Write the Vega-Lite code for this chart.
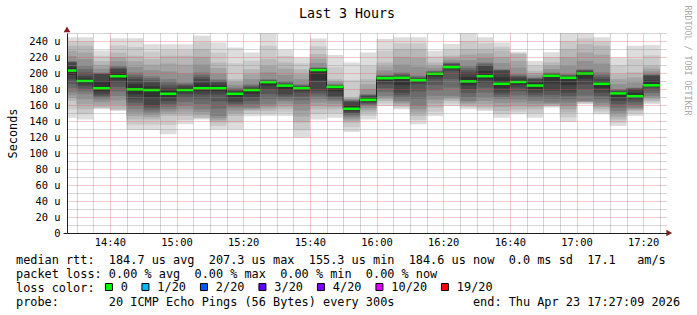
{
  "$schema": "https://vega.github.io/schema/vega-lite/v6.json",
  "width": 600,
  "height": 200,
  "autosize": {"type": "none"},
  "padding": {"left": 67, "top": 33, "right": 30, "bottom": 82},
  "background": "white",
  "title": {"text": "Last 3 Hours", "font": "DejaVu Sans Mono", "fontSize": 13.3, "fontWeight": "normal", "color": "#000000", "anchor": "middle", "frame": "group", "dx": -20, "offset": -15},
  "data": {"values": [
    {"t0":"2026-04-23T14:27:09","t1":"2026-04-23T14:30:00","m":203,"loss":"0","p1":144,"p2":154.5,"p3":165,"p4":168.5,"p5":172,"p6":175.6,"p7":181,"p8":186.5,"p9":192,"p10":197.5,"p11":208,"p12":213,"p13":213.7,"p14":214.3,"p15":215,"p16":221.3,"p17":227.7,"p18":234,"p19":239.3,"p20":244.6},
    {"t0":"2026-04-23T14:30:00","t1":"2026-04-23T14:35:00","m":190,"loss":"0","p1":142,"p2":148.4,"p3":154.7,"p4":161,"p5":167.2,"p6":173.5,"p7":177,"p8":180.5,"p9":184,"p10":187,"p11":193.2,"p12":196.5,"p13":200.7,"p14":204.8,"p15":209,"p16":217.3,"p17":225.7,"p18":234,"p19":239.3,"p20":244.6},
    {"t0":"2026-04-23T14:35:00","t1":"2026-04-23T14:40:00","m":181,"loss":"0","p1":154.7,"p2":155.8,"p3":156.8,"p4":160.2,"p5":163.6,"p6":167,"p7":169.2,"p8":171.3,"p9":173.5,"p10":177.2,"p11":189.8,"p12":198.6,"p13":199.3,"p14":200,"p15":200.7,"p16":205.5,"p17":210.2,"p18":215,"p19":221.5,"p20":228},
    {"t0":"2026-04-23T14:40:00","t1":"2026-04-23T14:45:00","m":196,"loss":"0","p1":152.6,"p2":153.7,"p3":154.7,"p4":160.3,"p5":165.8,"p6":171.4,"p7":177,"p8":182.5,"p9":188,"p10":192,"p11":200.5,"p12":205,"p13":206.3,"p14":207.7,"p15":209,"p16":214.6,"p17":220.1,"p18":225.7,"p19":234.5,"p20":243.3},
    {"t0":"2026-04-23T14:45:00","t1":"2026-04-23T14:50:00","m":179.5,"loss":"0","p1":128.7,"p2":135.4,"p3":142,"p4":146.2,"p5":150.5,"p6":154.7,"p7":158.9,"p8":163,"p9":167.2,"p10":173.4,"p11":185.9,"p12":192.3,"p13":195.1,"p14":197.9,"p15":200.7,"p16":207.7,"p17":214.6,"p18":221.6,"p19":232.5,"p20":243.3},
    {"t0":"2026-04-23T14:50:00","t1":"2026-04-23T14:55:00","m":178.7,"loss":"0","p1":128.7,"p2":135.4,"p3":142,"p4":144.8,"p5":147.7,"p6":150.5,"p7":153.3,"p8":156.1,"p9":158.9,"p10":168.8,"p11":183.4,"p12":188,"p13":190.8,"p14":193.7,"p15":196.5,"p16":203.5,"p17":210.4,"p18":217.4,"p19":226.7,"p20":236},
    {"t0":"2026-04-23T14:55:00","t1":"2026-04-23T15:00:00","m":174,"loss":"0","p1":123.4,"p2":134.9,"p3":146.3,"p4":149.1,"p5":151.9,"p6":154.7,"p7":158.1,"p8":161.6,"p9":165,"p10":169.5,"p11":177.9,"p12":181.8,"p13":185.3,"p14":188.8,"p15":192.3,"p16":202.1,"p17":211.8,"p18":221.6,"p19":228.8,"p20":236},
    {"t0":"2026-04-23T15:00:00","t1":"2026-04-23T15:05:00","m":178.7,"loss":"0","p1":135.9,"p2":141.1,"p3":146.3,"p4":150.5,"p5":154.7,"p6":158.9,"p7":163.8,"p8":168.6,"p9":173.5,"p10":176.1,"p11":181.4,"p12":184,"p13":185.3,"p14":186.7,"p15":188,"p16":199.2,"p17":210.4,"p18":221.6,"p19":228.8,"p20":236},
    {"t0":"2026-04-23T15:05:00","t1":"2026-04-23T15:10:00","m":181,"loss":"0","p1":142,"p2":143,"p3":144,"p4":147.6,"p5":151.1,"p6":154.7,"p7":161,"p8":167.2,"p9":173.5,"p10":177.3,"p11":186.7,"p12":192.3,"p13":195.1,"p14":197.9,"p15":200.7,"p16":210.5,"p17":220.2,"p18":230,"p19":238.3,"p20":246.6},
    {"t0":"2026-04-23T15:10:00","t1":"2026-04-23T15:15:00","m":181,"loss":"0","p1":129.5,"p2":133.8,"p3":138,"p4":140.8,"p5":143.5,"p6":146.3,"p7":155.4,"p8":164.4,"p9":173.5,"p10":177.3,"p11":184.5,"p12":188,"p13":189.4,"p14":190.9,"p15":192.3,"p16":199.3,"p17":206.2,"p18":213.2,"p19":225.6,"p20":238},
    {"t0":"2026-04-23T15:15:00","t1":"2026-04-23T15:20:00","m":174,"loss":"0","p1":129.5,"p2":137.9,"p3":146.3,"p4":149.8,"p5":153.3,"p6":156.8,"p7":159.2,"p8":161.5,"p9":163.9,"p10":169,"p11":175.9,"p12":177.7,"p13":179.1,"p14":180.4,"p15":181.8,"p16":185.3,"p17":188.8,"p18":192.3,"p19":212.2,"p20":232},
    {"t0":"2026-04-23T15:20:00","t1":"2026-04-23T15:25:00","m":178.7,"loss":"0","p1":146,"p2":149.3,"p3":152.6,"p4":154,"p5":155.4,"p6":156.8,"p7":161,"p8":165.1,"p9":169.3,"p10":174,"p11":180.3,"p12":181.8,"p13":183.2,"p14":184.6,"p15":186,"p16":192.3,"p17":198.5,"p18":204.8,"p19":215.3,"p20":225.7},
    {"t0":"2026-04-23T15:25:00","t1":"2026-04-23T15:30:00","m":188.6,"loss":"0","p1":146.3,"p2":149.5,"p3":152.6,"p4":155.4,"p5":158.2,"p6":161,"p7":167.3,"p8":173.5,"p9":179.8,"p10":184.2,"p11":189.4,"p12":190.2,"p13":190.9,"p14":191.6,"p15":192.3,"p16":200.7,"p17":209,"p18":217.4,"p19":234,"p20":250},
    {"t0":"2026-04-23T15:30:00","t1":"2026-04-23T15:35:00","m":184.2,"loss":"0","p1":146.3,"p2":150.5,"p3":154.7,"p4":158.1,"p5":161.6,"p6":165,"p7":167.8,"p8":170.7,"p9":173.5,"p10":178.9,"p11":185.1,"p12":186,"p13":187.3,"p14":188.7,"p15":190,"p16":197.7,"p17":205.5,"p18":213.2,"p19":221.1,"p20":229},
    {"t0":"2026-04-23T15:35:00","t1":"2026-04-23T15:40:00","m":181,"loss":"0","p1":119,"p2":128.5,"p3":138,"p4":145.7,"p5":153.3,"p6":161,"p7":165.9,"p8":170.7,"p9":175.6,"p10":178.3,"p11":182,"p12":183,"p13":184,"p14":185,"p15":186,"p16":192.3,"p17":198.5,"p18":204.8,"p19":212.2,"p20":219.5},
    {"t0":"2026-04-23T15:40:00","t1":"2026-04-23T15:45:00","m":203.7,"loss":"0","p1":142,"p2":148.4,"p3":154.7,"p4":158.9,"p5":163,"p6":167.2,"p7":170.7,"p8":174.2,"p9":177.7,"p10":190.7,"p11":204.7,"p12":205.7,"p13":206.1,"p14":206.6,"p15":207,"p16":212.5,"p17":218.1,"p18":223.6,"p19":233.3,"p20":243},
    {"t0":"2026-04-23T15:45:00","t1":"2026-04-23T15:50:00","m":182.6,"loss":"0","p1":144,"p2":149.4,"p3":154.7,"p4":158.1,"p5":161.6,"p6":165,"p7":167.1,"p8":169.3,"p9":171.4,"p10":177,"p11":183.3,"p12":184,"p13":184.7,"p14":185.3,"p15":186,"p16":188.1,"p17":190.2,"p18":192.3,"p19":207.4,"p20":222.4},
    {"t0":"2026-04-23T15:50:00","t1":"2026-04-23T15:55:00","m":155.3,"loss":"0","p1":126.2,"p2":132.1,"p3":138,"p4":140.5,"p5":143,"p6":145.5,"p7":147.2,"p8":148.8,"p9":150.5,"p10":152.9,"p11":159.6,"p12":163.9,"p13":164.7,"p14":165.6,"p15":166.4,"p16":167.4,"p17":168.3,"p18":169.3,"p19":191.3,"p20":213.2},
    {"t0":"2026-04-23T15:55:00","t1":"2026-04-23T16:00:00","m":166.5,"loss":"0","p1":142,"p2":146.3,"p3":150.5,"p4":153.3,"p5":156.1,"p6":158.9,"p7":160.3,"p8":161.6,"p9":163,"p10":164.8,"p11":169,"p12":171.4,"p13":172.1,"p14":172.8,"p15":173.5,"p16":179.8,"p17":186,"p18":192.3,"p19":209,"p20":225.7},
    {"t0":"2026-04-23T16:00:00","t1":"2026-04-23T16:05:00","m":193.5,"loss":"0","p1":158.9,"p2":162,"p3":165,"p4":167.1,"p5":169.3,"p6":171.4,"p7":176.3,"p8":181.1,"p9":186,"p10":189.8,"p11":194.5,"p12":195.5,"p13":196.3,"p14":197.2,"p15":198,"p16":203.1,"p17":208.1,"p18":213.2,"p19":227.9,"p20":242.5},
    {"t0":"2026-04-23T16:05:00","t1":"2026-04-23T16:10:00","m":194,"loss":"0","p1":154.7,"p2":156.8,"p3":158.9,"p4":160.9,"p5":163,"p6":165,"p7":168.5,"p8":172.1,"p9":175.6,"p10":184.8,"p11":195.3,"p12":196.5,"p13":197.9,"p14":199.3,"p15":200.7,"p16":210.5,"p17":220.2,"p18":230,"p19":237.3,"p20":244.6},
    {"t0":"2026-04-23T16:10:00","t1":"2026-04-23T16:15:00","m":191,"loss":"0","p1":135.9,"p2":141.1,"p3":146.3,"p4":150.5,"p5":154.7,"p6":158.9,"p7":167.9,"p8":177,"p9":186,"p10":188.5,"p11":192,"p12":193,"p13":194.3,"p14":195.7,"p15":197,"p16":208,"p17":219,"p18":230,"p19":237.3,"p20":244.6},
    {"t0":"2026-04-23T16:15:00","t1":"2026-04-23T16:20:00","m":199,"loss":"0","p1":146.3,"p2":151.6,"p3":156.8,"p4":161.7,"p5":166.5,"p6":171.4,"p7":178.4,"p8":185.3,"p9":192.3,"p10":195.7,"p11":200,"p12":201,"p13":201.7,"p14":202.3,"p15":203,"p16":206.4,"p17":209.8,"p18":213.2,"p19":220.5,"p20":227.8},
    {"t0":"2026-04-23T16:20:00","t1":"2026-04-23T16:25:00","m":207.3,"loss":"0","p1":158.9,"p2":162,"p3":165,"p4":167.1,"p5":169.3,"p6":171.4,"p7":181.9,"p8":192.3,"p9":202.8,"p10":205,"p11":209.2,"p12":211,"p13":211.7,"p14":212.5,"p15":213.2,"p16":216,"p17":218.8,"p18":221.6,"p19":229,"p20":236.3},
    {"t0":"2026-04-23T16:25:00","t1":"2026-04-23T16:30:00","m":189.5,"loss":"0","p1":154.7,"p2":156.8,"p3":158.9,"p4":160.9,"p5":163,"p6":165,"p7":169.9,"p8":174.9,"p9":179.8,"p10":184.7,"p11":195.1,"p12":200.7,"p13":203.5,"p14":206.2,"p15":209,"p16":216,"p17":223,"p18":230,"p19":240,"p20":250},
    {"t0":"2026-04-23T16:30:00","t1":"2026-04-23T16:35:00","m":196,"loss":"0","p1":152.6,"p2":154.7,"p3":156.8,"p4":161,"p5":165.1,"p6":169.3,"p7":175.5,"p8":181.8,"p9":188,"p10":192,"p11":202.5,"p12":209,"p13":210.4,"p14":211.8,"p15":213.2,"p16":218.8,"p17":224.4,"p18":230,"p19":237.3,"p20":244.6},
    {"t0":"2026-04-23T16:35:00","t1":"2026-04-23T16:40:00","m":186.5,"loss":"0","p1":144,"p2":148.3,"p3":152.6,"p4":157.5,"p5":162.3,"p6":167.2,"p7":170,"p8":172.8,"p9":175.6,"p10":181.1,"p11":194.7,"p12":202.8,"p13":203.5,"p14":204.1,"p15":204.8,"p16":212.5,"p17":220.1,"p18":227.8,"p19":232.9,"p20":238},
    {"t0":"2026-04-23T16:40:00","t1":"2026-04-23T16:45:00","m":188.8,"loss":"0","p1":148.4,"p2":151.6,"p3":154.7,"p4":158.9,"p5":163,"p6":167.2,"p7":172.1,"p8":176.9,"p9":181.8,"p10":185.3,"p11":191.6,"p12":194.4,"p13":195.8,"p14":197.2,"p15":198.6,"p16":206.9,"p17":215.3,"p18":223.6,"p19":225.1,"p20":226.5},
    {"t0":"2026-04-23T16:45:00","t1":"2026-04-23T16:50:00","m":184.3,"loss":"0","p1":144,"p2":149.4,"p3":154.7,"p4":158.1,"p5":161.6,"p6":165,"p7":168.5,"p8":172.1,"p9":175.6,"p10":180,"p11":188.3,"p12":192.3,"p13":193,"p14":193.7,"p15":194.4,"p16":197.2,"p17":200,"p18":202.8,"p19":208.9,"p20":215},
    {"t0":"2026-04-23T16:50:00","t1":"2026-04-23T16:55:00","m":196.5,"loss":"0","p1":156.8,"p2":157.9,"p3":158.9,"p4":160.3,"p5":161.6,"p6":163,"p7":167.9,"p8":172.8,"p9":177.7,"p10":187.1,"p11":197.6,"p12":198.6,"p13":199.3,"p14":200,"p15":200.7,"p16":204.9,"p17":209,"p18":213.2,"p19":219.6,"p20":226},
    {"t0":"2026-04-23T16:55:00","t1":"2026-04-23T17:00:00","m":194,"loss":"0","p1":138.8,"p2":144.7,"p3":150.5,"p4":154.7,"p5":158.8,"p6":163,"p7":167.2,"p8":171.4,"p9":175.6,"p10":184.8,"p11":195,"p12":196,"p13":197,"p14":198,"p15":199,"p16":209.3,"p17":219.7,"p18":230,"p19":240,"p20":250},
    {"t0":"2026-04-23T17:00:00","t1":"2026-04-23T17:05:00","m":199.4,"loss":"0","p1":161,"p2":162,"p3":163,"p4":163.7,"p5":164.3,"p6":165,"p7":172,"p8":179,"p9":186,"p10":192.7,"p11":201.1,"p12":202.8,"p13":203.5,"p14":204.1,"p15":204.8,"p16":215.3,"p17":225.7,"p18":236.2,"p19":243.4,"p20":250},
    {"t0":"2026-04-23T17:05:00","t1":"2026-04-23T17:10:00","m":186.5,"loss":"0","p1":148.4,"p2":151.6,"p3":154.7,"p4":157.5,"p5":160.2,"p6":163,"p7":167.2,"p8":171.4,"p9":175.6,"p10":181.1,"p11":189.4,"p12":192.3,"p13":195.1,"p14":197.9,"p15":200.7,"p16":211.8,"p17":222.9,"p18":234,"p19":239.3,"p20":244.6},
    {"t0":"2026-04-23T17:10:00","t1":"2026-04-23T17:15:00","m":174.5,"loss":"0","p1":133.8,"p2":137.9,"p3":142,"p4":145.5,"p5":149.1,"p6":152.6,"p7":156.7,"p8":160.9,"p9":165,"p10":169.8,"p11":175.8,"p12":177,"p13":178,"p14":179,"p15":180,"p16":186.2,"p17":192.4,"p18":198.6,"p19":209.1,"p20":219.5},
    {"t0":"2026-04-23T17:15:00","t1":"2026-04-23T17:20:00","m":171,"loss":"0","p1":146.3,"p2":149.5,"p3":152.6,"p4":154,"p5":155.4,"p6":156.8,"p7":160.2,"p8":163.6,"p9":167,"p10":169,"p11":175.4,"p12":179.8,"p13":180.5,"p14":181.1,"p15":181.8,"p16":188.1,"p17":194.4,"p18":200.7,"p19":217.4,"p20":234},
    {"t0":"2026-04-23T17:20:00","t1":"2026-04-23T17:25:00","m":184.6,"loss":"0","p1":161,"p2":163,"p3":165,"p4":167.1,"p5":169.3,"p6":171.4,"p7":174.9,"p8":178.3,"p9":181.8,"p10":183.2,"p11":190.6,"p12":196.5,"p13":197.2,"p14":197.9,"p15":198.6,"p16":202.1,"p17":205.6,"p18":209,"p19":222,"p20":235}
  ]},
  "resolve": {"axis": {"y": "independent"}},
  "layer": [
    {
      "mark": {"type": "rect"},
      "encoding": {
        "x": {"field": "t0", "type": "temporal",
          "scale": {"domain": [{"year": 2026, "month": 4, "date": 23, "hours": 14, "minutes": 27, "seconds": 9}, {"year": 2026, "month": 4, "date": 23, "hours": 17, "minutes": 27, "seconds": 9}], "padding": 0},
          "axis": {
            "orient": "bottom",
            "tickCount": 36,
            "labelExpr": "minutes(datum.value) % 20 === 0 ? timeFormat(datum.value, '%H:%M') : ''",
            "labelOverlap": false, "labelFlush": false,
            "labelFont": "DejaVu Sans Mono", "labelFontSize": 10.4, "labelColor": "#000000", "labelPadding": 4,
            "ticks": false,
            "domain": true, "domainColor": "#1f1f1f", "domainWidth": 1,
            "grid": true,
            "gridColor": {"condition": {"test": "minutes(datum.value) % 20 === 0", "value": "#de4f4f"}, "value": "#8f8f8f"},
            "gridOpacity": {"condition": {"test": "minutes(datum.value) % 20 === 0", "value": 0.6}, "value": 0.75},
            "gridDash": [1, 1], "gridWidth": 1,
            "title": [
              "median rtt:\u00a0\u00a0184.7 us avg\u00a0\u00a0207.3 us max\u00a0\u00a0155.3 us min\u00a0\u00a0184.6 us now\u00a0\u00a00.0 ms sd\u00a0\u00a017.1\u00a0\u00a0\u00a0am/s",
              "packet loss: 0.00 % avg\u00a0\u00a00.00 % max\u00a0\u00a00.00 % min\u00a0\u00a00.00 % now",
              "loss color:",
              "probe:\u00a0\u00a0\u00a0\u00a0\u00a0\u00a0\u00a020 ICMP Echo Pings (56 Bytes) every 300s\u00a0\u00a0\u00a0\u00a0\u00a0\u00a0\u00a0\u00a0\u00a0\u00a0\u00a0end: Thu Apr 23 17:27:09 2026"
            ],
            "titleX": -51.5, "titleY": 30.5, "titleAlign": "left", "titleBaseline": "alphabetic", "titleAngle": 0,
            "titleFont": "DejaVu Sans Mono", "titleFontSize": 11.86, "titleFontWeight": "normal", "titleColor": "#000000",
            "titleLineHeight": 14,
            "zindex": 1
          }
        },
        "x2": {"field": "t1"},
        "y": {"field": "p1", "type": "quantitative",
          "scale": {"domain": [0, 250], "nice": false, "zero": true, "padding": 0},
          "axis": {
            "orient": "left",
            "values": [0, 10, 20, 30, 40, 50, 60, 70, 80, 90, 100, 110, 120, 130, 140, 150, 160, 170, 180, 190, 200, 210, 220, 230, 240, 250],
            "labelExpr": "datum.value % 20 === 0 ? (datum.value === 0 ? '0' : datum.value + ' u') : ''",
            "labelOverlap": false, "labelFlush": false,
            "labelFont": "DejaVu Sans Mono", "labelFontSize": 10.4, "labelColor": "#000000", "labelPadding": 3,
            "ticks": true, "tickSize": 4, "tickWidth": 1,
            "tickColor": {"condition": {"test": "datum.value === 0", "value": "#1f1f1f"}, "value": "transparent"},
            "domain": true, "domainColor": "#1f1f1f", "domainWidth": 1,
            "grid": true,
            "gridColor": {"condition": {"test": "datum.value % 20 === 0 && datum.value > 0", "value": "#de4f4f"}, "value": "#8f8f8f"},
            "gridOpacity": {"condition": {"test": "datum.value % 20 === 0 && datum.value > 0", "value": 0.6}, "value": 0.75},
            "gridDash": [1, 1], "gridWidth": 1,
            "title": "Seconds",
            "titleX": -55, "titleY": 100, "titleAngle": 270, "titleAlign": "center", "titleBaseline": "middle",
            "titleFont": "DejaVu Sans Mono", "titleFontSize": 11.86, "titleFontWeight": "normal", "titleColor": "#000000",
            "zindex": 1
          }
        },
        "y2": {"field": "p20"},
        "color": {"value": "#dddddd"}
      }
    },
    {
      "mark": {"type": "rect"},
      "encoding": {
        "x": {"field": "t0", "type": "temporal"},
        "x2": {"field": "t1"},
        "y": {"field": "p2", "type": "quantitative",
          "axis": {
            "orient": "right", "labels": false, "ticks": false, "domain": false, "grid": false,
            "title": "RRDTOOL / TOBI OETIKER",
            "titleX": 19, "titleY": 27, "titleAngle": 90, "titleAlign": "center", "titleBaseline": "middle",
            "titleFont": "DejaVu Sans Mono", "titleFontSize": 8.3, "titleFontWeight": "normal", "titleColor": "#a8a8a8"
          }
        },
        "y2": {"field": "p19"},
        "color": {"value": "#cacaca"}
      }
    },
    {"mark": {"type": "rect"}, "encoding": {"x": {"field": "t0", "type": "temporal"}, "x2": {"field": "t1"}, "y": {"field": "p3", "type": "quantitative", "axis": null}, "y2": {"field": "p18"}, "color": {"value": "#b7b7b7"}}},
    {"mark": {"type": "rect"}, "encoding": {"x": {"field": "t0", "type": "temporal"}, "x2": {"field": "t1"}, "y": {"field": "p4", "type": "quantitative", "axis": null}, "y2": {"field": "p17"}, "color": {"value": "#a4a4a4"}}},
    {"mark": {"type": "rect"}, "encoding": {"x": {"field": "t0", "type": "temporal"}, "x2": {"field": "t1"}, "y": {"field": "p5", "type": "quantitative", "axis": null}, "y2": {"field": "p16"}, "color": {"value": "#919191"}}},
    {"mark": {"type": "rect"}, "encoding": {"x": {"field": "t0", "type": "temporal"}, "x2": {"field": "t1"}, "y": {"field": "p6", "type": "quantitative", "axis": null}, "y2": {"field": "p15"}, "color": {"value": "#7e7e7e"}}},
    {"mark": {"type": "rect"}, "encoding": {"x": {"field": "t0", "type": "temporal"}, "x2": {"field": "t1"}, "y": {"field": "p7", "type": "quantitative", "axis": null}, "y2": {"field": "p14"}, "color": {"value": "#6b6b6b"}}},
    {"mark": {"type": "rect"}, "encoding": {"x": {"field": "t0", "type": "temporal"}, "x2": {"field": "t1"}, "y": {"field": "p8", "type": "quantitative", "axis": null}, "y2": {"field": "p13"}, "color": {"value": "#585858"}}},
    {"mark": {"type": "rect"}, "encoding": {"x": {"field": "t0", "type": "temporal"}, "x2": {"field": "t1"}, "y": {"field": "p9", "type": "quantitative", "axis": null}, "y2": {"field": "p12"}, "color": {"value": "#454545"}}},
    {"mark": {"type": "rect"}, "encoding": {"x": {"field": "t0", "type": "temporal"}, "x2": {"field": "t1"}, "y": {"field": "p10", "type": "quantitative", "axis": null}, "y2": {"field": "p11"}, "color": {"value": "#323232"}}},
    {
      "mark": {"type": "line", "interpolate": "step-after", "color": "#202020", "strokeWidth": 1},
      "encoding": {"x": {"field": "t0", "type": "temporal"}, "y": {"field": "m", "type": "quantitative", "axis": null}}
    },
    {
      "mark": {"type": "bar", "orient": "horizontal", "size": 2.5},
      "encoding": {
        "x": {"field": "t0", "type": "temporal"},
        "x2": {"field": "t1"},
        "y": {"field": "m", "type": "quantitative", "axis": null},
        "color": {"field": "loss", "type": "nominal",
          "scale": {"domain": ["0", "1/20", "2/20", "3/20", "4/20", "10/20", "19/20"], "range": ["#00ff00", "#00b8ff", "#0059ff", "#5e00ff", "#7e00ff", "#dd00ff", "#ff0000"]},
          "legend": {
            "title": null, "orient": "none", "legendX": 36, "legendY": 248, "direction": "horizontal",
            "symbolType": "square", "symbolSize": 49, "symbolStrokeColor": "#000000", "symbolStrokeWidth": 1, "symbolOpacity": 1,
            "labelFont": "DejaVu Sans Mono", "labelFontSize": 11.86, "labelColor": "#000000", "labelOffset": 6,
            "columnPadding": 11.5, "padding": 0
          }
        }
      }
    },
    {
      "data": {"values": [{"tip": "y"}]},
      "mark": {"type": "point", "shape": "triangle-up", "filled": true, "size": 45, "color": "#801f1f", "opacity": 1},
      "encoding": {
        "x": {"datum": {"year": 2026, "month": 4, "date": 23, "hours": 14, "minutes": 27, "seconds": 9}, "type": "temporal"},
        "y": {"datum": 254.5, "type": "quantitative", "axis": null}
      }
    },
    {
      "data": {"values": [{"tip": "x"}]},
      "mark": {"type": "point", "shape": "triangle-right", "filled": true, "size": 45, "color": "#801f1f", "opacity": 1},
      "encoding": {
        "x": {"datum": {"year": 2026, "month": 4, "date": 23, "hours": 17, "minutes": 27, "seconds": 50}, "type": "temporal"},
        "y": {"datum": 0, "type": "quantitative", "axis": null}
      }
    }
  ],
  "config": {
    "view": {"stroke": null},
    "font": "DejaVu Sans Mono"
  }
}
